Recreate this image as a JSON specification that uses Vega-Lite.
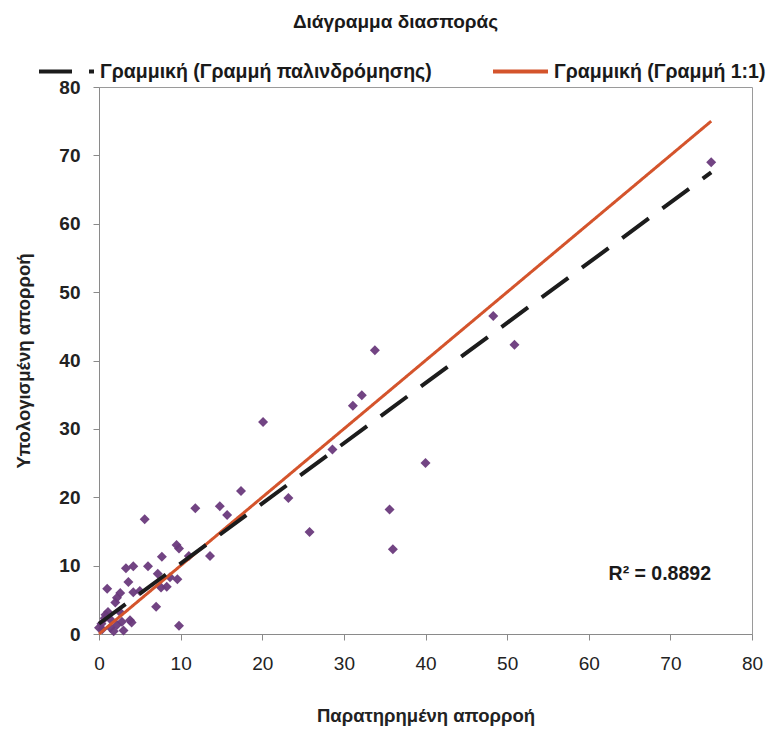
{
  "$schema": "https://vega.github.io/schema/vega-lite/v6.json",
  "width": 653,
  "height": 547,
  "autosize": {"type": "none"},
  "padding": {"left": 99, "top": 87, "right": 24, "bottom": 100},
  "background": "white",
  "config": {
    "font": "Liberation Sans",
    "view": {"stroke": "#9a9a9a", "strokeWidth": 1},
    "axis": {"grid": false, "domainColor": "#8a8a8a", "tickColor": "#8a8a8a", "tickSize": 6, "labelFont": "Liberation Sans", "titleFont": "Liberation Sans", "labelColor": "#222", "titleColor": "#222"}
  },
  "title": {"text": "Διάγραμμα διασποράς", "fontSize": 19, "fontWeight": "bold", "font": "Liberation Sans", "color": "#1a1a1a", "anchor": "middle", "frame": "group", "offset": 10, "dx": -30},
  "datasets": {
    "points": [
      {"observed": 75.0, "computed": 69.0},
      {"observed": 48.3, "computed": 46.5},
      {"observed": 50.9, "computed": 42.3},
      {"observed": 33.8, "computed": 41.5},
      {"observed": 32.2, "computed": 34.9},
      {"observed": 31.1, "computed": 33.4},
      {"observed": 20.1, "computed": 31.0},
      {"observed": 28.6, "computed": 27.0},
      {"observed": 40.0, "computed": 25.0},
      {"observed": 35.6, "computed": 18.2},
      {"observed": 36.0, "computed": 12.4},
      {"observed": 23.2, "computed": 19.9},
      {"observed": 25.8, "computed": 14.9},
      {"observed": 17.4, "computed": 20.9},
      {"observed": 11.8, "computed": 18.4},
      {"observed": 14.8, "computed": 18.7},
      {"observed": 15.7, "computed": 17.4},
      {"observed": 5.6, "computed": 16.8},
      {"observed": 9.5, "computed": 13.0},
      {"observed": 9.8, "computed": 12.5},
      {"observed": 13.6, "computed": 11.4},
      {"observed": 11.0, "computed": 11.4},
      {"observed": 7.7, "computed": 11.3},
      {"observed": 6.0, "computed": 9.9},
      {"observed": 4.2, "computed": 9.9},
      {"observed": 3.3, "computed": 9.6},
      {"observed": 7.2, "computed": 8.8},
      {"observed": 8.7, "computed": 8.3},
      {"observed": 9.6, "computed": 8.0},
      {"observed": 3.6, "computed": 7.6},
      {"observed": 8.3, "computed": 6.9},
      {"observed": 7.6, "computed": 6.8},
      {"observed": 1.0, "computed": 6.6},
      {"observed": 5.0, "computed": 6.3},
      {"observed": 4.2, "computed": 6.1},
      {"observed": 2.6, "computed": 6.0},
      {"observed": 2.2, "computed": 5.3},
      {"observed": 2.0, "computed": 4.6},
      {"observed": 7.0, "computed": 4.0},
      {"observed": 1.1, "computed": 3.2},
      {"observed": 2.5, "computed": 3.3},
      {"observed": 3.8, "computed": 2.0},
      {"observed": 4.0, "computed": 1.7},
      {"observed": 0.7, "computed": 2.3},
      {"observed": 0.8, "computed": 2.8},
      {"observed": 1.5, "computed": 2.0},
      {"observed": 9.8, "computed": 1.2},
      {"observed": 2.2, "computed": 1.3},
      {"observed": 2.8, "computed": 1.8},
      {"observed": 1.4, "computed": 0.9},
      {"observed": 0.4, "computed": 0.7},
      {"observed": 0.0, "computed": 0.9},
      {"observed": 1.8, "computed": 0.4},
      {"observed": 0.3, "computed": 1.5},
      {"observed": 3.0, "computed": 0.5}
    ],
    "lines": [
      {"series": "Γραμμική (Γραμμή 1:1)", "observed": 0, "computed": 0},
      {"series": "Γραμμική (Γραμμή 1:1)", "observed": 75, "computed": 75},
      {"series": "Γραμμική (Γραμμή παλινδρόμησης)", "observed": 0, "computed": 1.5},
      {"series": "Γραμμική (Γραμμή παλινδρόμησης)", "observed": 75, "computed": 67.5}
    ],
    "label": [
      {"observed": 68.7, "computed": 8.8, "text": "R² = 0.8892"}
    ]
  },
  "layer": [
    {
      "data": {"name": "points"},
      "mark": {"type": "point", "shape": "diamond", "filled": true, "size": 100, "color": "#6a3a7c", "opacity": 0.95},
      "encoding": {
        "x": {"field": "observed", "type": "quantitative", "scale": {"domain": [0, 80], "nice": false, "zero": true},
              "axis": {"title": "Παρατηρημένη απορροή", "values": [0,10,20,30,40,50,60,70,80], "labelFontSize": 19, "labelPadding": 14, "titleFontSize": 18.5, "titleFontWeight": "bold", "titlePadding": 33, "labelFlush": false}},
        "y": {"field": "computed", "type": "quantitative", "scale": {"domain": [0, 80], "nice": false, "zero": true},
              "axis": {"title": "Υπολογισμένη απορροή", "values": [0,10,20,30,40,50,60,70,80], "labelFontSize": 19, "labelFontWeight": "bold", "labelPadding": 13, "titleFontSize": 18.5, "titleFontWeight": "bold", "titlePadding": 25, "labelFlush": false}}
      }
    },
    {
      "data": {"name": "lines"},
      "transform": [{"filter": "datum.series === 'Γραμμική (Γραμμή 1:1)'"}],
      "mark": {"type": "line", "strokeWidth": 3, "strokeCap": "butt"},
      "encoding": {
        "x": {"field": "observed", "type": "quantitative"},
        "y": {"field": "computed", "type": "quantitative"},
        "color": {"field": "series", "type": "nominal",
                  "scale": {"domain": ["Γραμμική (Γραμμή παλινδρόμησης)", "Γραμμική (Γραμμή 1:1)"], "range": ["#1c1c1c", "#d4542c"]},
                  "legend": {"title": null, "orient": "none", "legendX": -62, "legendY": -45, "direction": "horizontal", "symbolType": "stroke", "symbolSize": 3025, "symbolStrokeWidth": 4, "labelFontSize": 19.5, "labelFontWeight": "bold", "labelFont": "Liberation Sans", "labelColor": "#1a1a1a", "labelLimit": 600, "columnPadding": 53, "labelOffset": 4}},
        "strokeDash": {"field": "series", "type": "nominal",
                  "scale": {"domain": ["Γραμμική (Γραμμή παλινδρόμησης)", "Γραμμική (Γραμμή 1:1)"], "range": [[33, 17], [1, 0]]}}
      }
    },
    {
      "data": {"name": "lines"},
      "transform": [{"filter": "datum.series === 'Γραμμική (Γραμμή παλινδρόμησης)'"}],
      "mark": {"type": "line", "strokeWidth": 4, "strokeCap": "butt"},
      "encoding": {
        "x": {"field": "observed", "type": "quantitative"},
        "y": {"field": "computed", "type": "quantitative"},
        "color": {"field": "series", "type": "nominal"},
        "strokeDash": {"field": "series", "type": "nominal"}
      }
    },
    {
      "data": {"name": "label"},
      "mark": {"type": "text", "fontSize": 19.5, "fontWeight": "bold", "font": "Liberation Sans", "color": "#1a1a1a", "align": "center", "baseline": "middle"},
      "encoding": {
        "x": {"field": "observed", "type": "quantitative"},
        "y": {"field": "computed", "type": "quantitative"},
        "text": {"field": "text"}
      }
    }
  ]
}
